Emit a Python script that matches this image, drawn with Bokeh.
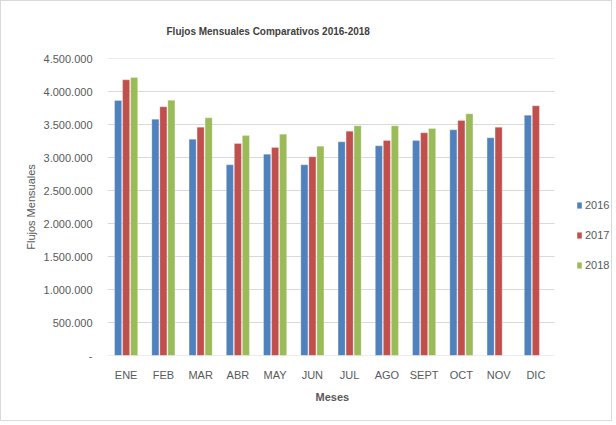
from bokeh.plotting import figure
from bokeh.models import (ColumnDataSource, Range1d, FixedTicker, CustomJSTickFormatter,
                          Legend, LegendItem, Title)
from bokeh.transform import dodge
from bokeh.embed import file_html
from bokeh.resources import INLINE

months = ["ENE", "FEB", "MAR", "ABR", "MAY", "JUN", "JUL", "AGO", "SEPT", "OCT", "NOV", "DIC"]
y2016 = [3864000, 3580000, 3277000, 2889000, 3050000, 2889000, 3237000, 3177000, 3258000, 3419000, 3298000, 3641000]
y2017 = [4177000, 3768000, 3459000, 3212000, 3152000, 3010000, 3399000, 3258000, 3374000, 3561000, 3459000, 3783000]
y2018 = [4212000, 3868000, 3601000, 3333000, 3353000, 3171000, 3480000, 3480000, 3439000, 3662000, float("nan"), float("nan")]
series_names = ["2016", "2017", "2018"]
colors = ["#4F81BD", "#C0504D", "#9BBB59"]
y_ticks = [0, 500000, 1000000, 1500000, 2000000, 2500000, 3000000, 3500000, 4000000, 4500000]

n = len(months)
centers = [i + 0.5 for i in range(n)]
src = ColumnDataSource(dict(m=months, xc=centers, a=y2016, b=y2017, c=y2018))

FONT = "Liberation Sans"
TXT = "#595959"
GRID = "#d9d9d9"

# frame spans 12 categories plus room on the right for the legend
p = figure(x_range=Range1d(0, n * 506 / 447), y_range=Range1d(0, 4500000),
           width=612, height=421, output_backend="svg", toolbar_location=None,
           min_border_left=106, min_border_right=0, min_border_top=57, min_border_bottom=67,
           title="Flujos Mensuales  Comparativos 2016-2018")
p.outline_line_color = None
p.title.text_font = FONT
p.title.text_font_style = "bold"
p.title.text_font_size = "10px"
p.title.text_color = "#404040"
p.title.align = "left"
p.title.offset = 59
p.title.standoff = 44

# gridlines only across the category span
p.xgrid.grid_line_color = None
p.ygrid.grid_line_color = None
p.segment(x0=0, x1=n, y0=y_ticks, y1=y_ticks, line_color=GRID, line_width=1)

rs = []
for key, off, col in zip(["a", "b", "c"], [-0.215, 0.0, 0.215], colors):
    r = p.vbar(x=dodge("xc", off), top=key, width=0.19, source=src,
               fill_color=col, line_color="white", line_alpha=0.5, line_width=0.5)
    rs.append(r)

p.yaxis.ticker = FixedTicker(ticks=y_ticks)
p.yaxis.formatter = CustomJSTickFormatter(code="""
if (tick == 0) { return '-'; }
return Math.round(tick).toString().replace(/\\B(?=(\\d{3})+(?!\\d))/g, '.');
""")
p.yaxis.axis_line_color = None
p.yaxis.major_tick_line_color = None
p.yaxis.minor_tick_line_color = None
p.yaxis.major_label_standoff = 9
p.yaxis.major_label_text_font = FONT
p.yaxis.major_label_text_font_size = "11px"
p.yaxis.major_label_text_color = TXT
p.yaxis.axis_label = "Flujos Mensuales"
p.yaxis.axis_label_text_font = FONT
p.yaxis.axis_label_text_font_style = "normal"
p.yaxis.axis_label_text_font_size = "11px"
p.yaxis.axis_label_text_color = TXT
p.yaxis.axis_label_standoff = 4

p.xaxis.ticker = FixedTicker(ticks=centers)
p.xaxis.formatter = CustomJSTickFormatter(args=dict(months=months), code="""
return months[Math.floor(tick)];
""")
p.xaxis.axis_line_color = None
p.xaxis.major_tick_line_color = None
p.xaxis.minor_tick_line_color = None
p.xaxis.major_label_standoff = 7
p.xaxis.major_label_text_font = FONT
p.xaxis.major_label_text_font_size = "11px"
p.xaxis.major_label_text_color = TXT

xt = Title(text="Meses", align="left", offset=208, text_font=FONT, text_font_style="bold",
           text_font_size="11px", text_color=TXT, standoff=11)
p.add_layout(xt, "below")

legend = Legend(items=[LegendItem(label=s, renderers=[r]) for s, r in zip(series_names, rs)],
                location=(469, 80), orientation="vertical", padding=0, margin=0,
                spacing=10, glyph_width=6, glyph_height=8, label_height=20,
                label_standoff=3, label_text_font=FONT, label_text_font_size="11px",
                label_text_color=TXT, border_line_color=None, background_fill_alpha=0)
p.add_layout(legend)

p.styles = {"border": "1px solid #d9d9d9"}

open("out.html", "w").write(file_html(p, INLINE))
